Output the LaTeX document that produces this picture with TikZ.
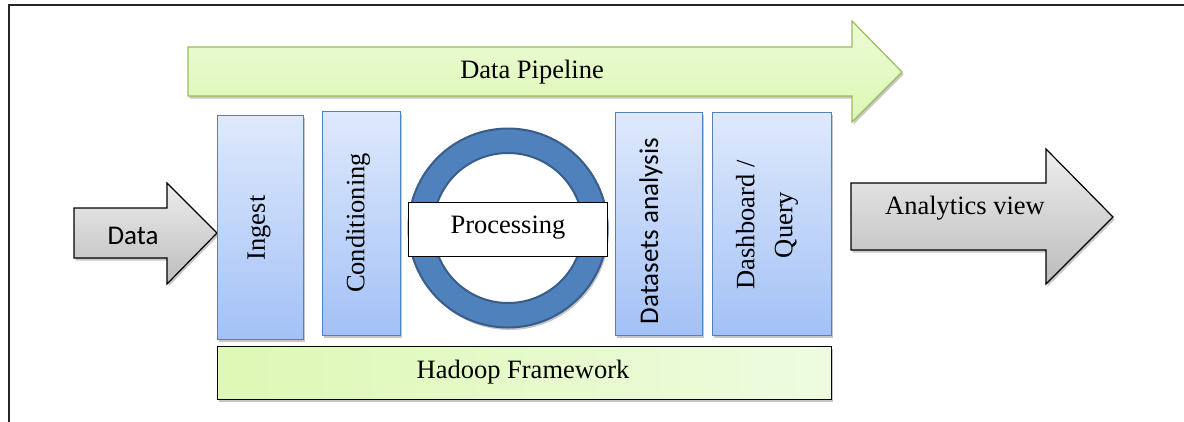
\documentclass[tikz,border=0pt]{standalone}
\usepackage{fontspec}
\setmainfont{Liberation Serif}
\newfontfamily\calibri{Carlito}
\usetikzlibrary{shadows}
\definecolor{bluetop}{HTML}{DEE9FC}
\definecolor{bluebot}{HTML}{A3C1F6}
\definecolor{blueedge}{HTML}{4F81BD}
\definecolor{ringfill}{HTML}{4F81BD}
\definecolor{ringedge}{HTML}{385D8A}
\definecolor{greentop}{HTML}{EBFBD6}
\definecolor{greenbot}{HTML}{DDF7B4}
\definecolor{greenedge}{HTML}{9BBB59}
\definecolor{hadleft}{HTML}{DDF9B4}
\definecolor{hadright}{HTML}{EEFBE0}
\definecolor{grtop}{HTML}{EDEDED}
\definecolor{grbot}{HTML}{BCBCBC}
\tikzset{
  shd/.style={drop shadow={shadow xshift=1.5pt, shadow yshift=-2.5pt, opacity=0.22, fill=black}},
  bluebox/.style={rectangle, draw=blueedge, line width=1.2pt, top color=bluetop, bottom color=bluebot, shd, inner sep=0pt, anchor=north west},
  grayarrow/.style={draw=black, line width=1.2pt, top color=grtop, bottom color=grbot, shd},
  greenarrow/.style={draw=greenedge, line width=1.2pt, top color=greentop, bottom color=greenbot, shd},
  txt/.style={font=\fontsize{26.5}{31}\selectfont, inner sep=0pt},
  sanstxt/.style={font=\calibri\fontsize{27}{32}\selectfont, inner sep=0pt},
}
\begin{document}
\begin{tikzpicture}[x=1pt,y=-1pt]
\useasboundingbox (0,0) rectangle (1184,421);
% frame
\draw[line width=1.6pt, black!85] (9,425) -- (9,5) -- (1190,5);
% Data Pipeline arrow
\path[greenarrow] (188,47) -- (852,47) -- (852,21) -- (902,72) -- (852,122) -- (852,96) -- (188,96) -- cycle;
\node[txt] (pipetxt) at (532,72) {Data Pipeline};
% Data arrow
\path[grayarrow] (74,208) -- (167,208) -- (167,183) -- (217,233) -- (167,284) -- (167,258) -- (74,258) -- cycle;
\node[sanstxt] (datatxt) at (133,236) {Data};
% Analytics view arrow
\path[grayarrow] (851,183) -- (1046,183) -- (1046,149) -- (1113,217) -- (1046,284) -- (1046,250) -- (851,250) -- cycle;
\node[txt] (anatxt) at (965,208) {Analytics view};
% blue boxes
\node[bluebox, minimum width=86pt, minimum height=224pt] (ingest) at (217,115) {};
\node[txt, rotate=90] (ingesttxt) at (259,228) {Ingest};
\node[bluebox, minimum width=78pt, minimum height=224pt] (cond) at (322,111) {};
\node[txt, rotate=90] (condtxt) at (358,223) {Conditioning};
\node[bluebox, minimum width=87pt, minimum height=223pt] (dsa) at (615,112) {};
\node[sanstxt, rotate=90] (dsatxt) at (651,231) {Datasets analysis};
\node[bluebox, minimum width=119pt, minimum height=223pt] (dash) at (712,112) {};
\node[txt, rotate=90, align=center, font=\fontsize{26.5}{38}\selectfont] (dashtxt) at (767,225) {Dashboard /\\Query};
% processing ring
\node[circle, draw=ringedge, fill=ringfill, line width=2pt, minimum size=199pt, inner sep=0pt, shd] (ring) at (508,228) {};
\node[circle, draw=ringedge, fill=white, line width=2pt, minimum size=150pt, inner sep=0pt] (ringin) at (508,228) {};
\node[rectangle, draw=black, fill=white, line width=1pt, minimum width=199pt, minimum height=54pt, inner sep=0pt] (proc) at (508,229) {};
\node[txt] (proctxt) at (508,228) {Processing};
% Hadoop
\node[rectangle, draw=black, line width=1.3pt, left color=hadleft, right color=hadright, inner sep=0pt, minimum width=614pt, minimum height=53pt, anchor=north west, shd] (hadoop) at (217,346) {};
\node[txt] (hadooptxt) at (523,372) {Hadoop Framework};
\end{tikzpicture}
\end{document}
